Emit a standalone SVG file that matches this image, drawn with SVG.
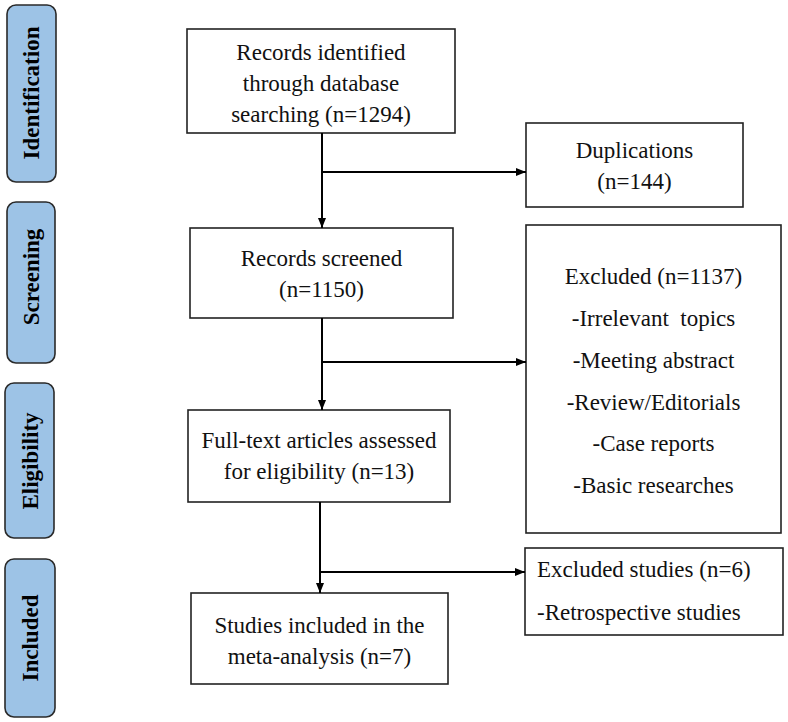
<svg xmlns="http://www.w3.org/2000/svg" width="788" height="722" viewBox="0 0 788 722">
<defs>
<marker id="arr" markerUnits="userSpaceOnUse" markerWidth="10" markerHeight="10" refX="10" refY="5" orient="auto">
<path d="M0,1 L10,5 L0,9 z" fill="#000"/>
</marker>
<style>
.bar{fill:#9DC3E6;stroke:#2a2a2a;stroke-width:1.6}
.bt{font-family:"Liberation Serif","Times New Roman",serif;font-weight:bold;font-size:23px;fill:#000;text-anchor:middle}
.box{fill:#fff;stroke:#222;stroke-width:1.6}
.t{font-family:"Liberation Serif","Times New Roman",serif;font-size:23px;fill:#111;text-anchor:middle}
.tl{font-family:"Liberation Serif","Times New Roman",serif;font-size:23px;fill:#111}
.ln{fill:none;stroke:#000;stroke-width:2}
</style>
</defs>
<rect width="788" height="722" fill="#fff"/>
<g id="stage-identification">
<rect class="bar" x="7" y="5" width="49" height="177" rx="9"/>
<text class="bt" transform="translate(39,93) rotate(-90)">Identification</text>
</g>
<g id="stage-screening">
<rect class="bar" x="7" y="202" width="48" height="161" rx="9"/>
<text class="bt" transform="translate(39,277) rotate(-90)">Screening</text>
</g>
<g id="stage-eligibility">
<rect class="bar" x="5" y="383" width="49" height="155" rx="9"/>
<text class="bt" transform="translate(38,461) rotate(-90)">Eligibility</text>
</g>
<g id="stage-included">
<rect class="bar" x="5" y="559" width="50" height="158" rx="9"/>
<text class="bt" transform="translate(38,638) rotate(-90)">Included</text>
</g>
<g id="records-identified">
<rect class="box" x="187" y="29" width="268" height="104"/>
<text class="t" x="321" y="60">Records identified</text>
<text class="t" x="321" y="91">through database</text>
<text class="t" x="321" y="122">searching (n=1294)</text>
</g>
<g id="duplications">
<rect class="box" x="526" y="123" width="217" height="84"/>
<text class="t" x="634.5" y="158">Duplications</text>
<text class="t" x="634.5" y="189">(n=144)</text>
</g>
<g id="records-screened">
<rect class="box" x="190" y="228" width="263" height="90"/>
<text class="t" x="321.5" y="266">Records screened</text>
<text class="t" x="321.5" y="297">(n=1150)</text>
</g>
<g id="excluded">
<rect class="box" x="526" y="225" width="255" height="308"/>
<text class="t" x="653.5" y="284">Excluded (n=1137)</text>
<text class="t" x="653.5" y="326" xml:space="preserve">-Irrelevant  topics</text>
<text class="t" x="653.5" y="368">-Meeting abstract</text>
<text class="t" x="653.5" y="410">-Review/Editorials</text>
<text class="t" x="653.5" y="451">-Case reports</text>
<text class="t" x="653.5" y="493">-Basic researches</text>
</g>
<g id="full-text">
<rect class="box" x="188" y="410" width="262" height="92"/>
<text class="t" x="319" y="448">Full-text articles assessed</text>
<text class="t" x="319" y="479">for eligibility (n=13)</text>
</g>
<g id="excluded-studies">
<rect class="box" x="525" y="548" width="258" height="87"/>
<text class="tl" x="537" y="577">Excluded studies (n=6)</text>
<text class="tl" x="537" y="620">-Retrospective studies</text>
</g>
<g id="included-studies">
<rect class="box" x="191" y="593" width="257" height="91"/>
<text class="t" x="319.5" y="633">Studies included in the</text>
<text class="t" x="319.5" y="664">meta-analysis (n=7)</text>
</g>
<g id="connectors">
<line class="ln" x1="322" y1="133" x2="322" y2="228" marker-end="url(#arr)"/>
<line class="ln" x1="322" y1="172" x2="526" y2="172" marker-end="url(#arr)"/>
<line class="ln" x1="322" y1="318" x2="322" y2="410" marker-end="url(#arr)"/>
<line class="ln" x1="322" y1="362" x2="526" y2="362" marker-end="url(#arr)"/>
<line class="ln" x1="320" y1="502" x2="320" y2="593" marker-end="url(#arr)"/>
<line class="ln" x1="320" y1="572" x2="525" y2="572" marker-end="url(#arr)"/>
</g>
</svg>
